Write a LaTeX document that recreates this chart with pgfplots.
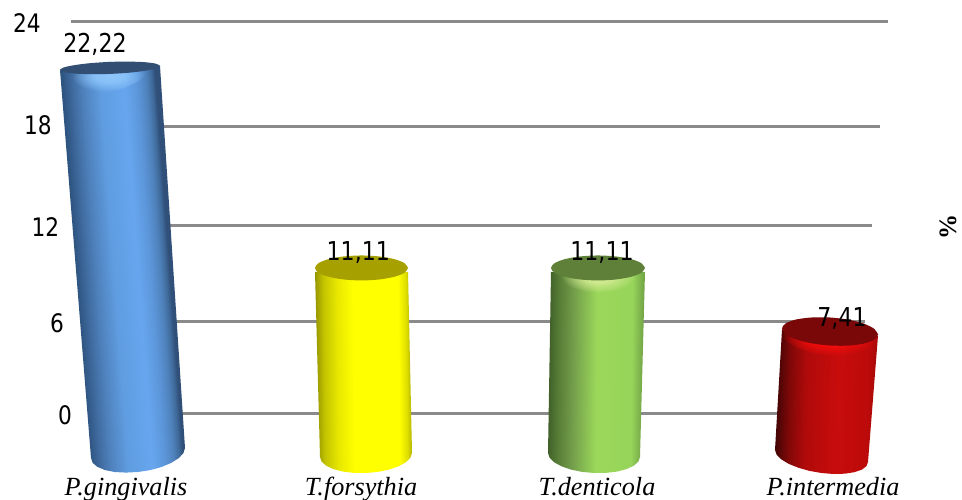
\documentclass[border=0pt]{standalone}
\usepackage{pgfplots}
\usepackage{pgfplotstable}
\pgfplotsset{compat=1.18}
\usetikzlibrary{fadings}
\usepackage{fontspec}
\setmainfont{Liberation Serif}
\newfontfamily\numfont[FakeStretch=0.85]{DejaVu Sans}

% Cylinder body shadings, left edge to right edge; the tilted blue body
% spans a narrower part of its shading than the nearly upright ones
\pgfdeclarehorizontalshading{cylblue}{100bp}{
  color(0bp)=(rgb,255:red,46;green,84;blue,128); color(33.85bp)=(rgb,255:red,46;green,84;blue,128);
  color(37.1bp)=(rgb,255:red,63;green,106;blue,158); color(41bp)=(rgb,255:red,79;green,130;blue,189);
  color(46.8bp)=(rgb,255:red,95;green,156;blue,224); color(55.2bp)=(rgb,255:red,103;green,166;blue,238);
  color(59.7bp)=(rgb,255:red,92;green,150;blue,218); color(62.9bp)=(rgb,255:red,79;green,130;blue,188);
  color(64.9bp)=(rgb,255:red,63;green,106;blue,154); color(66.15bp)=(rgb,255:red,48;green,80;blue,122);
  color(100bp)=(rgb,255:red,48;green,80;blue,122)}
\pgfdeclarehorizontalshading{cylyellow}{100bp}{
  color(0bp)=(rgb,255:red,142;green,142;blue,0); color(25bp)=(rgb,255:red,142;green,142;blue,0);
  color(30bp)=(rgb,255:red,196;green,196;blue,0); color(37bp)=(rgb,255:red,232;green,232;blue,0);
  color(45bp)=(rgb,255:red,255;green,255;blue,0);
  color(68bp)=(rgb,255:red,255;green,255;blue,0); color(72bp)=(rgb,255:red,222;green,222;blue,0);
  color(75bp)=(rgb,255:red,168;green,168;blue,0); color(100bp)=(rgb,255:red,168;green,168;blue,0)}
\pgfdeclarehorizontalshading{cylgreen}{100bp}{
  color(0bp)=(rgb,255:red,62;green,92;blue,40); color(25bp)=(rgb,255:red,62;green,92;blue,40);
  color(30bp)=(rgb,255:red,85;green,122;blue,53); color(38bp)=(rgb,255:red,115;green,158;blue,75);
  color(50bp)=(rgb,255:red,155;green,216;blue,90);
  color(68bp)=(rgb,255:red,150;green,212;blue,90); color(75bp)=(rgb,255:red,107;green,154;blue,66);
  color(100bp)=(rgb,255:red,107;green,154;blue,66)}
\pgfdeclarehorizontalshading{cylred}{100bp}{
  color(0bp)=(rgb,255:red,60;green,4;blue,4); color(25bp)=(rgb,255:red,60;green,4;blue,4);
  color(32bp)=(rgb,255:red,128;green,8;blue,8); color(40bp)=(rgb,255:red,176;green,10;blue,10);
  color(55bp)=(rgb,255:red,200;green,12;blue,12); color(70bp)=(rgb,255:red,188;green,10;blue,10);
  color(75bp)=(rgb,255:red,160;green,8;blue,8); color(100bp)=(rgb,255:red,160;green,8;blue,8)}

% Soft radial mask for the highlight under each lid
\pgfdeclareradialshading{softglowshade}{\pgfpoint{0bp}{0bp}}{
  color(0bp)=(white); color(10bp)=(white!85!black); color(25bp)=(black); color(50bp)=(black)}
\pgfdeclarefading{softglow}{\pgfuseshading{softglowshade}}

% Tick labels on the back wall
\pgfplotstableread{
x v dy label
27 24 11 24
38 18 8 18
45.5 12 11 12
57 6 10.5 6
65 0 10.5 0
}\ticktable

% Value labels above each bar
\pgfplotstableread{
x v dy label
95 22.22 -15 22,22
358.3 11.11 -7.5 11,11
602 11.11 -7.5 11,11
842 7.41 -4.7 7,41
}\valuetable

\pgfplotstableread{
x label
126 P.gingivalis
361 T.forsythia
597 T.denticola
833 P.intermedia
}\cattable

% Cylinder outlines: x, value, screen offset of the outline from that value's level
\pgfplotstableread{
x v dy
60 22.22 2
91 0 3
92.6 0 7.8
97.3 0 11.8
104.8 0 15
114.5 0 17
125.8 0 17.6
138 0 17
150.2 0 15.1
161.5 0 12
171.2 0 7.9
178.7 0 3.2
183.4 0 -1.9
185 0 -7
160 22.22 -2
}\bodyA
\pgfplotstableread{
x v dy
160 22.22 -2
156.2 22.22 0.45
145.4 22.22 2.8
129.1 22.22 4.8
110 22.22 6
90.9 22.22 6.3
74.6 22.22 5.65
63.8 22.22 4.15
60 22.22 2
63.8 22.22 -0.45
74.6 22.22 -2.8
90.9 22.22 -4.8
110 22.22 -6
129.1 22.22 -6.3
145.4 22.22 -5.65
156.2 22.22 -4.15
160 22.22 -2
}\topA
\pgfplotstableread{
x v dy
315 11.11 4
320 0 2
321.6 0 6.6
326.2 0 10.7
333.5 0 14.1
343 0 16.6
354.1 0 17.9
366 0 18
377.9 0 16.9
389 0 14.6
398.5 0 11.3
405.8 0 7.3
410.4 0 2.7
412 0 -2
408 11.11 4
}\bodyB
\pgfplotstableread{
x v dy
408 11.11 0
404.5 11.11 4.8
394.4 11.11 8.8
379.3 11.11 11.5
361.5 11.11 12.5
343.7 11.11 11.5
328.6 11.11 8.8
318.5 11.11 4.8
315 11.11 0
318.5 11.11 -4.8
328.6 11.11 -8.8
343.7 11.11 -11.5
361.5 11.11 -12.5
379.3 11.11 -11.5
394.4 11.11 -8.8
404.5 11.11 -4.8
408 11.11 0
}\topB
\pgfplotstableread{
x v dy
551 11.11 4
548 0 -2
549.6 0 2.7
554.2 0 7.3
561.5 0 11.3
571 0 14.6
582.1 0 16.9
594 0 18
605.9 0 17.9
617 0 16.6
626.5 0 14.1
633.8 0 10.7
638.4 0 6.6
640 0 2
645 11.11 4
}\bodyC
\pgfplotstableread{
x v dy
645 11.11 0
641.4 11.11 4.8
631.2 11.11 8.8
616 11.11 11.5
598 11.11 12.5
580 11.11 11.5
564.8 11.11 8.8
554.6 11.11 4.8
551 11.11 0
554.6 11.11 -4.8
564.8 11.11 -8.8
580 11.11 -11.5
598 11.11 -12.5
616 11.11 -11.5
631.2 11.11 -8.8
641.4 11.11 -4.8
645 11.11 0
}\topC
\pgfplotstableread{
x v dy
782 7.41 -2
775 0 -5
776.6 0 -0.4
781.2 0 4.3
788.6 0 8.8
798.3 0 12.7
809.5 0 15.9
821.5 0 18
833.5 0 19
844.8 0 18.7
854.4 0 17.2
861.8 0 14.7
866.4 0 11.2
868 0 7
878 7.41 4
}\bodyD
\pgfplotstableread{
x v dy
878 7.41 2.8
874.3 7.41 7.9
863.9 7.41 11.8
848.4 7.41 13.9
830 7.41 13.8
811.6 7.41 11.6
796.1 7.41 7.6
785.7 7.41 2.4
782 7.41 -3.2
785.7 7.41 -8.3
796.1 7.41 -12.2
811.6 7.41 -14.2
830 7.41 -14.2
848.4 7.41 -12
863.9 7.41 -8
874.3 7.41 -2.8
878 7.41 2.8
}\topD

\definecolor{gridgray}{RGB}{138,138,138}
\definecolor{lidblue}{RGB}{50,78,114}
\definecolor{lidyellow}{RGB}{166,160,0}
\definecolor{lidgreen}{RGB}{95,128,56}
\definecolor{lidred}{RGB}{122,8,8}
\definecolor{glowblue}{RGB}{142,198,251}
\definecolor{glowgreen}{RGB}{214,236,150}
\definecolor{glowred}{RGB}{255,12,12}

\pgfplotsset{
  table/bar pts/.style={x=x, y expr={44+16.25*\thisrow{v}+0.0527*\thisrow{v}*\thisrow{v}-\thisrow{dy}}},
  table/wall pts/.style={x=x, y expr={85.5+14.94*\thisrow{v}+0.0573*\thisrow{v}*\thisrow{v}-\thisrow{dy}}},
  % soft highlight under a cylinder's lid: {centre x}{x scale}{y offset}{y scale}
  table/glow pts/.style n args={4}{x expr={#1+#2*(\thisrow{x}-#1)},
    y expr={44+16.25*\thisrow{v}+0.0527*\thisrow{v}*\thisrow{v}-(#3+#4*\thisrow{dy})}},
  glow/.style={draw=none, forget plot, path fading=softglow},
  gridrule/.style={draw=gridgray, line width=3pt, forget plot},
  textplot/.style={only marks, mark=none, forget plot, point meta=explicit symbolic, nodes near coords,
    nodes near coords style={anchor=base, inner sep=0pt, font=#1}},
}
\begin{document}
\begin{tikzpicture}
\useasboundingbox (0,0) rectangle (962pt,499pt);
\begin{axis}[
  at={(0,0)}, anchor=south west,
  scale only axis, width=962pt, height=499pt,
  xmin=0, xmax=962, ymin=0, ymax=499,
  hide axis, clip=true,
]
% Back wall rules at 24, 18, 12, 6, 0
\addplot[gridrule] table[wall pts] {x v dy
71 24 0
888 24 0
};
\addplot[gridrule] table[wall pts] {x v dy
150 18 0
880 18 0
};
\addplot[gridrule] table[wall pts] {x v dy
150 12 0
872 12 0
};
\addplot[gridrule] table[wall pts] {x v dy
150 6 0
865 6 0
};
\addplot[gridrule] table[wall pts] {x v dy
150 0 0
858 0 0
};

% Cylinders
\addplot[draw=none, shading=cylblue, shading angle=4.2, forget plot] table[bar pts] {\bodyA};
\addplot[fill=glowblue, glow] table[glow pts={106}{0.75}{8}{2.6}] {\topA};
\addplot[fill=lidblue, draw=none, smooth, forget plot] table[bar pts] {\topA};

\addplot[draw=none, shading=cylyellow, shading angle=0.6, forget plot] table[bar pts] {\bodyB};
\addplot[fill=lidyellow, draw=none, smooth, forget plot] table[bar pts] {\topB};

\addplot[draw=none, shading=cylgreen, shading angle=-0.6, forget plot] table[bar pts] {\bodyC};
\addplot[fill=glowgreen, glow] table[glow pts={600}{0.8}{8}{1.35}] {\topC};
\addplot[fill=lidgreen, draw=none, smooth, forget plot] table[bar pts] {\topC};

\addplot[draw=none, shading=cylred, shading angle=-1.3, forget plot] table[bar pts] {\bodyD};
\addplot[fill=glowred, glow] table[glow pts={830}{1.0}{6}{1.3}] {\topD};
\addplot[fill=lidred, draw=none, smooth, forget plot] table[bar pts] {\topD};

% Scale numbers, value labels and bacterium names
\addplot[textplot={\numfont\fontsize{25.5}{25.5}\selectfont}] table[wall pts, meta=label] {\ticktable};
\addplot[textplot={\numfont\fontsize{26}{26}\selectfont}] table[bar pts, meta=label] {\valuetable};
\addplot[textplot={\itshape\fontsize{26.2}{26.2}\selectfont}] table[x=x, y expr=4, meta=label] {\cattable};
\node[rotate=90, inner sep=0pt, font=\bfseries\fontsize{25}{25}\selectfont] at (axis cs:948,272) {\%};
\end{axis}
\end{tikzpicture}
\end{document}
